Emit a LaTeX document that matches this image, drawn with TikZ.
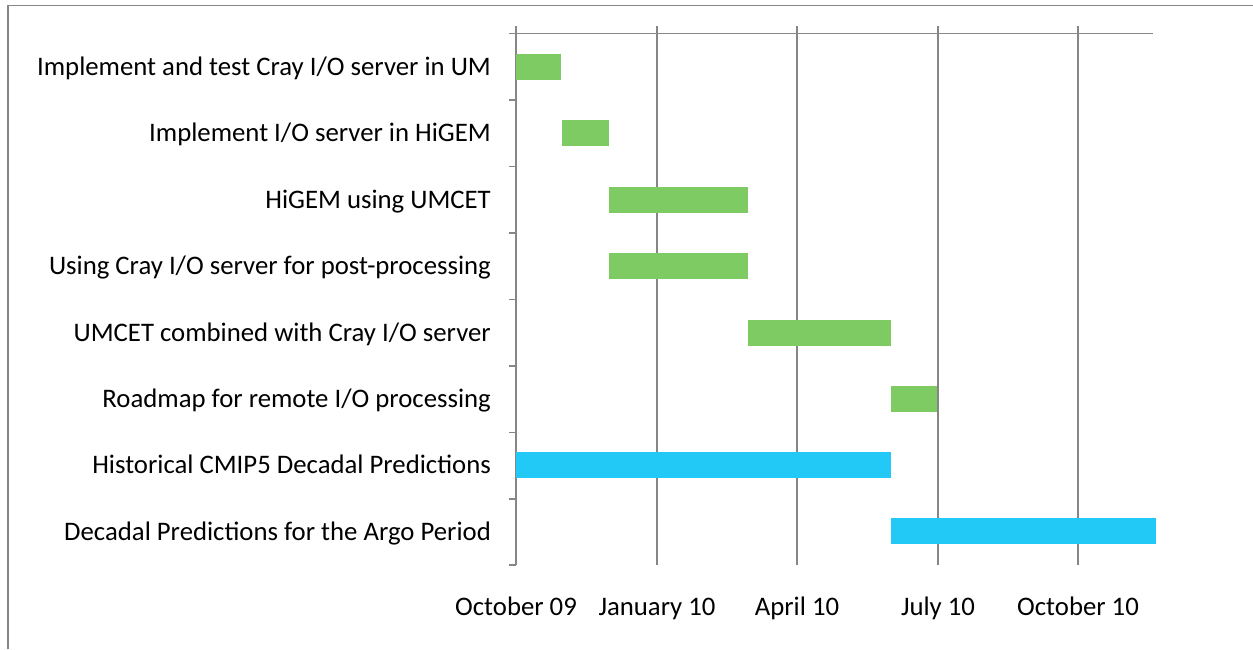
\documentclass[tikz,border=0pt]{standalone}
\usepackage{fontspec}
\setmainfont{Carlito}
\usetikzlibrary{positioning}
\definecolor{gridgrey}{HTML}{868686}
\definecolor{taskgreen}{HTML}{7ECB63}
\definecolor{taskblue}{HTML}{22C9F7}
\begin{document}
\begin{tikzpicture}[
x=1pt,y=-1pt,
every node/.style={font=\fontsize{26.75}{30}\selectfont},
grid/.style={draw=gridgrey,line width=1.6pt},
task/.style={anchor=base east,inner sep=0pt},
date/.style={anchor=base,inner sep=0pt},
bar/.style={anchor=west,inner sep=0pt,minimum height=26pt},
gbar/.style={bar,fill=taskgreen},
bbar/.style={bar,fill=taskblue}
]
\useasboundingbox (0,0) rectangle (1253,649);
% frame
\draw[grid,line width=1.2pt] (8,649) -- (8,5.5) -- (1253,5.5);
% grid and axis
\draw[grid] (509,33.5) -- (1153,33.5);
\foreach \gx in {657,797,938,1078}
  \draw[grid] (\gx,26) -- (\gx,565);
\draw[grid] (516,26) -- (516,565);
\foreach \gy in {33.5,100,166.5,233,299.5,366,432.5,499,565}
  \draw[grid] (509,\gy) -- (516,\gy);

% task labels
\node[task] (t1) at (491,75)  {Implement and test Cray I/O server in UM};
\node[task] (t2) at (491,141) {Implement I/O server in HiGEM};
\node[task] (t3) at (491,208) {HiGEM using UMCET};
\node[task] (t4) at (491,274) {Using Cray I/O server for post-processing};
\node[task] (t5) at (491,341) {UMCET combined with Cray I/O server};
\node[task] (t6) at (491,407) {Roadmap for remote I/O processing};
\node[task] (t7) at (491,473) {Historical CMIP5 Decadal Predictions};
\node[task] (t8) at (491,540) {Decadal Predictions for the Argo Period};

% bars
\node[gbar,minimum width=45pt]  (b1) at (516,67)  {};
\node[gbar,minimum width=47pt]  (b2) at (562,133) {};
\node[gbar,minimum width=139pt] (b3) at (609,200) {};
\node[gbar,minimum width=139pt] (b4) at (609,266) {};
\node[gbar,minimum width=143pt] (b5) at (748,333) {};
\node[gbar,minimum width=46pt]  (b6) at (891,399) {};
\node[bbar,minimum width=375pt] (b7) at (516,465) {};
\node[bbar,minimum width=265pt] (b8) at (891,531) {};

% dates
\node[date] (d1) at (516,615)  {October 09};
\node[date] (d2) at (657,615)  {January 10};
\node[date] (d3) at (797,615)  {April 10};
\node[date] (d4) at (938,615)  {July 10};
\node[date] (d5) at (1078,615) {October 10};
\end{tikzpicture}
\end{document}
